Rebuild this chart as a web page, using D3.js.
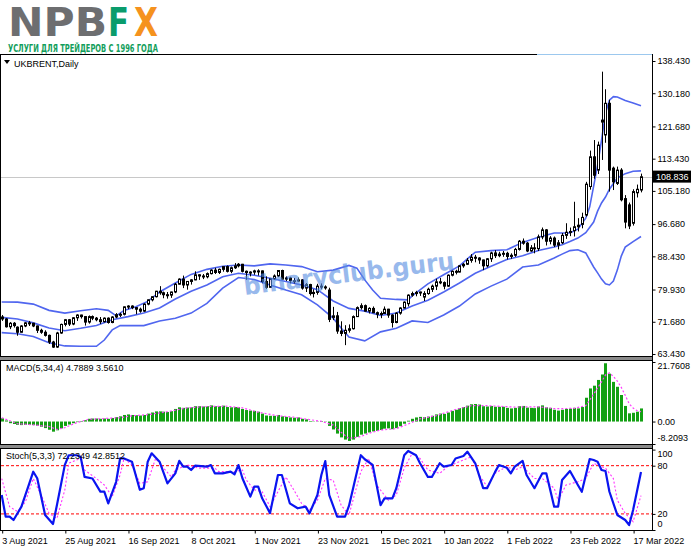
<!DOCTYPE html>
<html>
<head>
<meta charset="utf-8">
<script src="https://cdn.jsdelivr.net/npm/d3@7"></script>
<style>
body { margin: 0; background: #fff; }
svg { display: block; }
</style>
</head>
<body>
<svg id="chart" width="691" height="549"></svg>
<script>
// date ticks (bar index -> label)
const tickIdx = [0, 16, 32, 48, 64, 80, 96, 112, 128, 144, 160]
const tickLabels = ["3 Aug 2021", "25 Aug 2021", "16 Sep 2021", "8 Oct 2021", "1 Nov 2021", "23 Nov 2021",
                    "15 Dec 2021", "10 Jan 2022", "1 Feb 2022", "23 Feb 2022", "17 Mar 2022"]
const priceTicks = [138.430, 130.180, 121.680, 113.430, 105.180, 96.680, 88.430, 79.930, 71.680, 63.430]
const lastPrice = 108.836

// daily candles, 3 Aug 2021 .. 21 Mar 2022
const open = [
 72.9,72.4,70.4,71.3,70.3,69.0,70.6,71.4,71.3,70.6, 69.5,69.0,68.2,66.5,65.2,68.8,71.0,72.2,71.1,72.7,
 73.4,73.0,71.6,73.0,72.6,72.2,71.7,72.6,71.5,72.9, 73.5,73.6,75.5,75.7,75.3,74.9,74.4,76.2,77.3,78.1,
 79.5,79.1,78.6,78.5,79.3,81.3,82.6,81.1,82.0,82.4, 83.7,83.4,83.2,84.0,84.9,84.3,85.1,85.8,84.6,85.5,
 86.0,86.4,84.6,84.3,84.4,84.7,84.7,82.0,80.5,82.7, 83.4,84.8,82.6,82.9,82.2,82.1,82.4,80.3,81.2,78.9,
 79.2,80.8,80.6,79.8,72.8,73.2,69.3,68.7,69.5,69.9, 73.0,75.3,75.8,74.4,75.1,74.0,73.6,73.8,74.9,73.4,
 71.5,73.9,75.2,76.3,78.5,78.9,79.2,78.0,78.9,80.0, 80.8,81.9,81.7,80.8,83.6,84.6,84.4,86.0,86.4,87.4,
 88.2,88.0,87.5,86.0,87.8,89.3,88.6,89.0,89.2,88.4, 88.7,90.2,92.3,91.8,89.8,90.6,90.4,93.4,95.2,92.3,
 93.1,91.3,91.9,93.8,94.6,95.0,96.0,96.6,99.0,106.3, 113.9,110.5,122.8,119.5,127.6,111.0,107.1,110.5,103.2,101.6,
 96.9,104.7,105.4]
const high = [
 73.4,72.6,71.6,71.6,70.5,70.8,71.6,71.9,71.4,70.7, 69.9,69.5,68.4,66.8,69.1,71.2,72.4,72.4,72.9,73.6,
 73.5,73.1,73.3,73.3,72.9,72.9,72.8,72.8,73.1,73.9, 74.0,75.6,75.9,75.9,75.4,75.3,76.4,77.4,78.2,79.6,
 80.8,79.4,79.3,79.4,81.6,82.8,83.5,82.0,82.6,84.6, 83.8,83.9,84.3,85.1,85.5,85.3,85.9,86.1,85.8,86.7,
 86.7,86.5,84.8,84.6,85.0,85.1,84.8,83.3,82.9,83.8, 84.9,85.0,83.3,83.2,82.9,83.0,82.6,81.6,81.4,80.0,
 81.4,81.5,81.0,80.4,75.5,74.2,71.8,70.8,71.0,73.3, 75.6,76.4,76.1,75.4,75.6,74.3,74.3,75.6,75.0,73.6,
 74.1,75.4,76.9,78.7,79.4,79.6,79.4,79.5,80.4,81.2, 82.7,82.9,82.0,83.8,84.8,85.0,86.2,86.7,88.0,89.0,
 88.8,88.2,87.6,88.0,89.6,90.0,89.6,89.8,89.6,89.2, 90.6,92.6,93.0,92.1,91.3,91.8,94.0,95.8,95.4,93.6,
 93.5,92.6,94.4,96.9,95.8,102.4,98.2,99.6,107.5,115.5, 118.2,117.8,135.7,131.2,128.5,111.4,111.4,111.0,104.1,102.2,
 105.6,106.8,109.6]
const low = [
 71.9,70.2,69.8,70.2,68.1,68.9,70.3,70.6,70.3,68.8, 68.6,67.9,66.0,65.0,65.0,68.6,70.5,70.6,70.8,71.9,
 72.5,70.7,71.2,72.1,71.8,71.1,71.5,71.2,71.3,72.6, 72.9,73.3,74.9,74.9,73.6,74.0,74.2,75.9,76.9,77.9,
 78.6,77.7,77.6,77.8,79.0,81.2,80.3,79.9,81.2,82.3, 82.4,82.6,82.8,83.8,83.9,83.9,84.5,84.3,84.1,85.2,
 85.6,84.3,82.4,83.3,83.7,83.5,81.5,80.1,80.4,82.4, 83.1,82.4,82.1,81.5,81.5,81.9,79.9,79.3,78.4,77.9,
 78.6,80.0,79.9,71.6,72.1,68.6,68.0,65.7,68.9,69.7, 72.9,74.8,74.3,73.8,73.9,72.6,72.6,73.7,72.7,70.2,
 71.3,73.5,75.1,75.6,78.1,78.2,78.3,77.0,78.6,79.3, 79.8,81.3,80.0,80.6,83.3,83.8,84.3,85.5,86.2,86.8,
 86.9,86.5,84.9,85.6,87.0,88.0,88.2,88.3,87.6,87.8, 88.3,89.9,91.4,89.5,89.6,89.2,89.8,92.8,91.2,91.5,
 90.8,90.2,91.6,92.9,93.6,93.5,94.8,95.6,98.6,105.5, 108.3,109.5,113.1,117.5,105.0,105.4,106.7,102.5,95.6,95.4,
 96.3,103.5,104.8]
const close = [
 72.4,70.4,71.3,70.7,69.0,70.6,71.4,71.3,70.6,69.5, 69.0,68.2,66.5,65.2,68.8,71.0,72.2,71.1,72.7,73.4,
 73.0,71.6,73.0,72.6,72.2,71.7,72.6,71.5,72.9,73.5, 73.6,75.5,75.7,75.3,74.9,74.4,76.2,77.3,78.1,79.5,
 79.1,78.6,78.5,79.3,81.3,82.6,81.1,82.0,82.4,83.7, 83.4,83.2,84.0,84.9,84.3,85.1,85.8,84.6,85.5,86.0,
 86.4,84.6,84.3,84.4,84.7,84.7,82.0,80.5,82.7,83.4, 84.8,82.6,82.9,82.2,82.1,82.4,80.3,81.2,78.9,79.2,
 80.8,80.6,80.4,72.3,73.2,69.3,68.7,69.5,69.9,73.0, 75.3,75.8,74.4,75.1,74.0,73.6,73.8,74.9,73.4,71.5,
 73.9,75.2,76.7,78.5,78.9,79.2,79.3,78.9,80.0,80.8, 81.9,81.7,80.8,83.6,84.6,84.4,86.0,86.4,87.4,88.2,
 88.0,87.5,86.0,87.8,89.3,88.6,89.0,89.2,88.4,88.7, 90.2,92.3,91.8,89.8,90.6,90.4,93.4,95.2,92.3,93.1,
 91.3,91.9,93.8,94.6,94.8,96.0,96.4,98.4,106.9,113.9, 109.2,116.9,123.3,127.6,110.5,107.5,110.5,102.9,97.2,96.2,
 105.0,105.6,108.8]

// Bollinger bands read at sampled bars
const upIdx = [0,4,8,12,16,20,24,27,29,31,34,37,40,44,48,52,56,60,64,68,72,76,80,84,88,90,92,94,96,100,103,104,108,112,116,118,120,124,128,132,136,140,144,146,148,149,150,151,152,153,154,155,156,158,160,162]
const upVal = [76.75,76.7,76.2,74.6,73.9,74.5,75.0,74.6,73.2,74.6,75.5,76.9,79.3,81.6,83.8,85.1,85.9,86.2,86.0,86.5,86.2,85.8,84.5,84.9,86.1,85.4,82.4,79.8,77.7,77.4,77.3,78.3,81.4,83.7,86.0,87.8,89.5,89.9,90.1,92.0,93.3,94.4,94.4,95.4,98.2,101.1,106.4,111.8,118.2,125.1,128.4,129.3,129.2,128.3,127.7,127.0]
const midIdx = [0,4,8,12,16,20,24,28,32,36,40,44,48,52,56,60,64,68,72,76,80,84,88,92,96,100,104,108,112,116,120,124,128,132,136,140,142,144,146,148,150,151,152,153,154,156,158,160,162]
const midVal = [72.8,72.4,71.4,70.1,69.4,70.0,70.7,72.2,73.0,73.9,75.2,77.5,79.5,81.1,83.2,84.1,83.6,82.8,82.0,81.1,79.9,77.0,75.1,74.4,73.3,73.9,75.7,77.2,79.3,81.6,84.1,85.9,87.6,88.6,89.9,90.8,91.4,92.2,93.1,94.5,97.2,100.0,102.1,103.6,105.6,108.5,109.6,110.2,110.3]
const lowIdx = [0,4,8,12,16,20,24,26,28,30,36,40,44,48,52,56,60,64,68,72,76,80,84,86,88,92,96,100,104,108,112,116,120,124,128,132,136,140,142,144,146,148,150,151,152,153,154,155,156,157,158,160,162]
const lowVal = [68.9,68.6,67.9,66.3,65.5,65.4,65.4,67.0,69.6,70.7,70.7,71.9,72.6,73.9,76.4,80.3,83.0,82.5,81.1,79.8,78.6,76.0,72.6,70.1,67.8,66.8,69.1,70.0,71.9,71.5,73.4,75.7,78.8,80.8,82.6,85.7,86.2,88.0,89.0,89.9,90.1,89.3,85.7,84.2,82.6,81.4,81.1,82.1,84.9,88.5,90.8,92.2,93.5]

// MACD(5,34,4) histogram per bar and signal line samples
const macd = [
 1.2,0.4,-0.6,-0.9,-1.2,-1.3,-1.2,-1.2,-1.3,-1.5, -1.9,-2.4,-3.0,-3.7,-3.2,-2.5,-1.6,-1.1,-0.6,-0.2,
 0.2,0.5,1.0,1.1,1.1,1.0,1.1,1.0,1.3,1.6, 1.9,2.4,2.6,2.4,2.3,2.2,2.4,2.9,3.3,3.7,
 3.7,3.6,3.5,3.8,4.6,5.2,5.0,5.1,5.2,5.6, 5.6,5.5,5.6,5.9,5.6,5.6,5.8,5.3,5.2,5.3,
 5.2,4.6,4.2,4.0,3.9,3.6,2.9,2.2,2.1,2.1, 2.4,1.9,1.7,1.5,1.4,1.5,1.0,0.8,0.2,-0.1,
 0.1,0.2,0.1,-1.6,-2.9,-4.4,-5.8,-6.6,-7.1,-6.6, -5.6,-4.8,-4.4,-4.0,-3.6,-3.4,-3.1,-2.6,-2.5,-2.8,
 -2.4,-1.7,-0.8,0.3,1.0,1.5,1.7,1.6,1.8,2.1, 2.6,2.9,2.8,3.3,3.9,4.3,4.9,5.3,5.8,6.3,
 6.4,6.2,5.6,5.5,5.7,5.4,5.4,5.4,5.0,4.8, 5.0,5.6,5.7,5.1,5.0,4.9,5.5,5.9,5.2,5.0,
 4.3,4.0,4.3,4.6,4.7,5.0,4.8,5.3,8.7,12.1, 13.1,15.2,17.2,21.3,17.5,14.5,12.7,9.7,5.7,3.0,
 3.2,3.6,4.79]
const sigIdx = [0,4,8,12,14,16,19,22,26,30,33,37,42,47,52,57,61,65,70,74,78,81,84,86,88,91,93,96,100,103,106,110,115,119,123,130,136,140,145,148,150,152,153,154,155,156,157,158,159,160,161,162]
const sigVal = [1.4,-0.8,-1.2,-1.8,-2.9,-2.2,-0.4,0.8,1.1,1.4,2.1,2.5,3.6,5.0,5.5,5.6,5.0,3.4,2.1,1.6,0.7,0.1,-1.3,-3.9,-6.2,-5.5,-4.3,-3.1,-2.6,-0.9,1.0,2.1,4.4,5.8,5.8,5.3,5.4,4.7,4.8,5.8,10.0,14.5,17.0,17.8,16.5,14.8,12.5,9.6,6.5,4.9,4.0,3.56]

// Stoch(5,3,3) main and signal samples
const stIdx = [0,1,2,3,5,7,8,9,11,13,14,16,17,19,20,21,23,25,26,27,29,30,31,33,35,36,37,38,40,42,44,45,46,47,48,49,52,53,54,56,58,59,60,61,63,64,65,66,68,70,71,73,75,77,78,80,81,82,83,85,87,88,91,92,94,96,97,99,100,102,103,105,106,108,109,111,112,114,115,117,118,120,122,123,125,126,128,129,130,132,133,135,137,138,140,141,142,144,146,147,149,150,151,152,153,154,156,158,159,160,162]
const stMain = [43.5,16.6,16.6,12.4,29,58,72.5,64.3,18.7,7.5,31,81,93,93,91,66,64,47.7,47.7,33,60,89,89,85,50,52,85,95.4,85,58,70.5,86,78.8,78.8,74.6,80,78.8,80.8,70.5,70.5,72.6,69.3,80.8,64.3,41.5,53.9,53.9,39.4,21,68.4,68.4,33.2,27,29,20.7,43.5,68.4,85.8,43.5,16.6,16.6,30,93,88,81,31,39.4,39.4,52,93,98.3,93,83,66,66,83,78.8,80.8,89,92,97.4,83,52,52,72,80.8,77.4,70.5,78.8,86,68.4,52,70.5,70.5,29,29,62.2,73.4,56,47.6,88.3,87,85,74.6,73.4,47.6,18.7,12.4,6.2,24.9,72.2]
const stSigIdx = [0,2,4,6,8,10,12,14,16,17,20,21,24,26,28,30,31,33,35,37,39,41,43,44,47,50,54,55,59,61,62,64,66,68,70,72,74,76,78,80,82,84,86,88,91,93,95,98,100,102,104,106,108,111,113,116,119,121,123,125,128,130,132,135,137,140,141,143,146,148,150,153,155,156,158,160,162]
const stSig = [64,29,23,35,64,43.5,20.7,14.5,50,83,89,74.6,64,56,41.5,68.4,89,81,58,60,89,77,66,74.6,81,77,77,72.6,72.6,74.6,62,50,47.6,29,47.6,66,50,33,25,37,64,62,31,18.7,72.6,89,56,37,43.5,77,95,89,74.6,70.5,78.8,85,91,68.4,54,70.5,78.8,74.6,78.8,64,64,52,37,56,60,64,83,77,64,37,20.7,10.3,42.85]

const svg = d3.select("#chart")
const font = "'Liberation Sans', Arial, sans-serif"
const R = 652   // right edge of the plots

const x = d3.scaleLinear().domain([0, 162]).range([1.7, 641])
const yP = d3.scaleLinear().domain([63.43, 138.43]).range([354, 61])
const yM = d3.scaleLinear().domain([-8.2093, 21.7608]).range([444, 362])
const yS = d3.scaleLinear().domain([0, 100]).range([530, 449.6])
const bars = d3.range(close.length)
const px = i => Math.round(x(i))

// ---- logo (one text, coloured parts)
let logo = svg.append("text").attr("y", 36).attr("font-family", "'DejaVu Sans', sans-serif")
    .attr("font-weight", "bold").attr("font-size", 39)
logo.append("tspan").attr("x", 8).attr("fill", "#6d6e70")
    .attr("textLength", 99).attr("lengthAdjust", "spacingAndGlyphs").text("NPB")
logo.append("tspan").attr("x", 108).attr("fill", "#0a9c6c")
    .attr("textLength", 21).attr("lengthAdjust", "spacingAndGlyphs").text("F")
logo.append("tspan").attr("x", 134).attr("fill", "#f5921e")
    .attr("textLength", 24).attr("lengthAdjust", "spacingAndGlyphs").text("X")
svg.append("text").attr("x", 8).attr("y", 51.5).attr("font-family", "'DejaVu Sans', sans-serif")
    .attr("font-weight", "bold").attr("font-size", 10).attr("fill", "#129e5c")
    .attr("textLength", 150).attr("lengthAdjust", "spacingAndGlyphs").text("УСЛУГИ ДЛЯ ТРЕЙДЕРОВ С 1996 ГОДА")

// ---- frames
let frame = svg.append("g").attr("stroke", "#000").attr("stroke-width", 1)
frame.append("line").attr("x1", 0).attr("x2", R).attr("y1", 54.5).attr("y2", 54.5)
svg.append("line").attr("x1", 537).attr("x2", R).attr("y1", 54.5).attr("y2", 54.5).attr("stroke", "#9cc8ee")
svg.append("rect").attr("x", 0).attr("y", 357).attr("width", R).attr("height", 3).attr("fill", "#8a8a8a")
svg.append("rect").attr("x", 0).attr("y", 445).attr("width", R).attr("height", 3).attr("fill", "#8a8a8a")
;[356.5, 360.5, 444.5, 448.5, 530.5].forEach(v =>
    frame.append("line").attr("x1", 0).attr("x2", R).attr("y1", v).attr("y2", v))
frame.append("line").attr("x1", 0.5).attr("x2", 0.5).attr("y1", 54).attr("y2", 531)
frame.append("line").attr("x1", R + 0.5).attr("x2", R + 0.5).attr("y1", 54).attr("y2", 531)

// ---- main panel
let main = svg.append("g")
main.append("line").attr("x1", 1).attr("x2", R).attr("y1", Math.round(yP(lastPrice)) + 0.5)
    .attr("y2", Math.round(yP(lastPrice)) + 0.5).attr("stroke", "#c8c8c8")

let band = d3.line().x(d => x(d[0])).y(d => yP(d[1]))
;[[upIdx, upVal], [midIdx, midVal], [lowIdx, lowVal]].forEach(b => {
    main.append("path").datum(b[0].map((d, k) => [d, b[1][k]]))
        .attr("d", band).attr("fill", "none").attr("stroke", "#5066ef").attr("stroke-width", 1.6)
})

main.selectAll(".wick").data(bars).join("line").attr("class", "wick")
    .attr("x1", i => px(i) + 0.5).attr("x2", i => px(i) + 0.5)
    .attr("y1", i => yP(high[i])).attr("y2", i => yP(low[i]))
    .attr("stroke", "#000")
main.selectAll(".body").data(bars).join("rect").attr("class", "body")
    .attr("x", i => px(i) - 0.5).attr("width", 2)
    .attr("y", i => yP(Math.max(open[i], close[i])))
    .attr("height", i => Math.max(1, Math.abs(yP(open[i]) - yP(close[i]))))
    .attr("fill", i => close[i] >= open[i] ? "#fff" : "#000")
    .attr("stroke", "#000")

main.append("path").attr("d", "M4,60 L10,60 L7,64 Z").attr("fill", "#000")
main.append("text").attr("x", 14).attr("y", 67).attr("font-family", font).attr("font-size", 9)
    .text("UKBRENT,Daily")

// watermark
svg.append("text").attr("transform", "translate(350,282) rotate(-7)")
    .attr("text-anchor", "middle").attr("font-family", "'DejaVu Sans', sans-serif")
    .attr("font-weight", "bold").attr("font-size", 25).attr("fill", "#5a8fe2").attr("opacity", 0.62)
    .attr("textLength", 212).attr("lengthAdjust", "spacingAndGlyphs").text("binaryclub.guru")

// ---- MACD panel
let mp = svg.append("g")
mp.selectAll("rect").data(bars).join("rect")
    .attr("x", i => px(i) - 1).attr("width", 3)
    .attr("y", i => Math.min(yM(0), yM(macd[i])))
    .attr("height", i => Math.abs(yM(macd[i]) - yM(0)))
    .attr("fill", "#12a012")
mp.append("path").datum(sigIdx.map((d, k) => [d, sigVal[k]]))
    .attr("d", d3.line().x(d => x(d[0])).y(d => yM(d[1])))
    .attr("fill", "none").attr("stroke", "#ff3cff").attr("stroke-width", 1.2).attr("stroke-dasharray", "2,2")
mp.append("text").attr("x", 6).attr("y", 371).attr("font-family", font).attr("font-size", 9)
    .text("MACD(5,34,4) 4.7889 3.5610")

// ---- Stochastic panel
let sp = svg.append("g")
;[80, 20].forEach(v => sp.append("line").attr("x1", 1).attr("x2", R)
    .attr("y1", yS(v)).attr("y2", yS(v)).attr("stroke", "#ff0000").attr("stroke-dasharray", "3,2"))
sp.append("path").datum(stSigIdx.map((d, k) => [d, stSig[k]]))
    .attr("d", d3.line().x(d => x(d[0])).y(d => yS(d[1])))
    .attr("fill", "none").attr("stroke", "#ff33ff").attr("stroke-width", 1.1).attr("stroke-dasharray", "2,2")
sp.append("path").datum(stIdx.map((d, k) => [d, stMain[k]]))
    .attr("d", d3.line().x(d => x(d[0])).y(d => yS(d[1])))
    .attr("fill", "none").attr("stroke", "#0a14f0").attr("stroke-width", 2.2).attr("stroke-linejoin", "round")
sp.append("text").attr("x", 6).attr("y", 459).attr("font-family", font).attr("font-size", 9)
    .text("Stoch(5,3,3) 72.2349 42.8512")

// ---- axes
function styleAxis(g) {
    g.select(".domain").remove()
    g.attr("font-family", font).attr("font-size", 9)
    g.selectAll("text").attr("fill", "#000")
}
svg.append("g").attr("transform", `translate(${R + 0.5},0)`)
    .call(d3.axisRight(yP).tickValues(priceTicks).tickFormat(d3.format(".3f")).tickSize(3).tickPadding(2))
    .call(styleAxis)

svg.append("g").attr("transform", `translate(${R + 0.5},0)`)
    .call(d3.axisRight(yM).tickValues([21.7608, 0, -8.2093])
        .tickFormat(d => d === 0 ? "0.00" : d.toFixed(4)).tickSize(3).tickPadding(2))
    .call(styleAxis)
    .call(g => g.selectAll(".tick text").attr("y", d => d > 20 ? 4 : d < -8 ? -6 : 0))

svg.append("g").attr("transform", `translate(${R + 0.5},0)`)
    .call(d3.axisRight(yS).tickValues([100, 80, 20, 0]).tickSize(3).tickPadding(2))
    .call(styleAxis)
    .call(g => g.selectAll(".tick text").attr("y", d => d === 100 ? 4 : d === 0 ? -6 : 0))

// last price label
let lp = svg.append("g").attr("transform", `translate(${R + 1},${yP(lastPrice)})`)
lp.append("rect").attr("x", 0).attr("y", -6).attr("width", 38).attr("height", 12).attr("fill", "#000")
lp.append("text").attr("x", 3).attr("y", 3.5).attr("font-family", font).attr("font-size", 9)
    .attr("fill", "#fff").text(d3.format(".3f")(lastPrice))

svg.append("g").attr("transform", "translate(0,530.5)")
    .call(d3.axisBottom(x).tickValues(tickIdx).tickFormat((d, i) => tickLabels[i]).tickSize(3).tickPadding(4))
    .call(styleAxis)
    .call(g => g.selectAll(".tick line").attr("transform", "translate(0.5,0)"))
    .call(g => g.selectAll(".tick text").attr("text-anchor", "start").attr("x", 0))
</script>
</body>
</html>
